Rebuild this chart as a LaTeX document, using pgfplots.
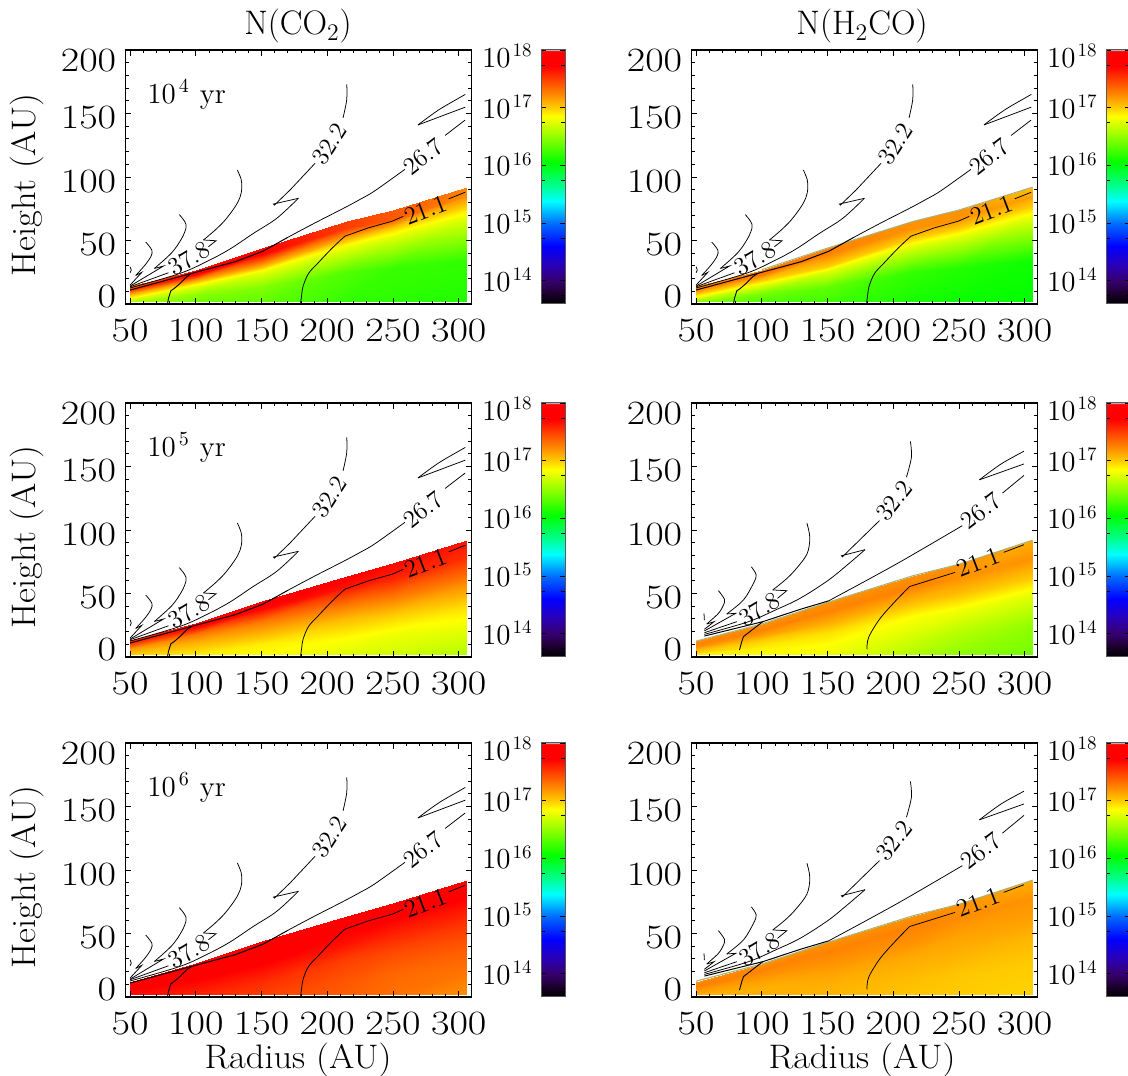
\documentclass[border=0pt]{standalone}
\usepackage{fontspec}
\usepackage{graphicx}
\usepackage{pgfplots}
\usepackage{pgfplotstable}
\pgfplotsset{compat=1.18}
\newfontfamily\tickfam[FakeStretch=1.18]{Latin Modern Roman}
\newfontfamily\labfam[FakeStretch=1.07]{Latin Modern Roman}
\newcommand\tickf{\tickfam\fontsize{17}{20}\selectfont}
\newcommand\labf{\labfam\fontsize{17}{20}\selectfont}
\newcommand\titf{\fontsize{17}{20}\selectfont}
\newcommand\barf{\fontsize{14.5}{16}\selectfont}
\newcommand\conf{\fontsize{12.5}{14}\selectfont}
\newcommand\yl[2]{\smash{\raisebox{#1}{#2}}}
\newcommand\bl[2]{\smash{\raisebox{#1}{10\hspace{1pt}\raisebox{5.4pt}{\fontsize{9.5}{10}\selectfont #2}}}}
\newcommand\agelab[1]{\barf 10\hspace{1.5pt}\raisebox{5.5pt}{\fontsize{10}{10}\selectfont #1}\hspace{5.5pt}yr}
\tikzset{clab/.style={font=\conf,inner sep=0pt,anchor=center}}
\definecolor{rimc}{RGB}{172,178,122}
\pgfplotstableread{
x y c
50 14 17.3
50 11 17.5
50 8 17.1
50 5 16.85
50 3.5 16.7
50 2 16.6
100 27 17.65
100 24 17.75
100 19 17.15
100 15 16.8
100 8 16.5
100 2 16.4
150 44 17.7
150 39 17.72
150 30 17.1
150 26 16.8
150 13 16.45
150 2 16.35
215 65 17.5
215 60 17.5
215 52 17.1
215 46 16.8
215 25 16.3
215 2 16.2
250 74 17.4
250 67 17.4
250 60 17.0
250 53 16.75
250 28 16.22
250 2 16.18
306 92 17.25
306 85 17.2
306 77 17.0
306 70 16.8
306 35 16.2
306 2 16.15
}\dataAa
\pgfplotstableread{
x y c
50 14 17.2
50 11 17.25
50 8 17.0
50 5 16.75
50 3.5 16.6
50 2 16.5
100 27 17.25
100 24 17.3
100 19 17.0
100 15 16.75
100 8 16.4
100 2 16.3
150 44 17.25
150 39 17.25
150 30 17.0
150 26 16.75
150 13 16.35
150 2 16.25
215 65 17.2
215 60 17.2
215 52 17.0
215 46 16.75
215 25 16.2
215 2 16.12
250 74 17.2
250 67 17.2
250 60 17.0
250 53 16.75
250 28 16.15
250 2 16.08
306 92 17.05
306 85 17.15
306 77 17.0
306 70 16.8
306 35 16.1
306 2 16.05
}\dataAb
\pgfplotstableread{
x y c
50 13 17.6
50 10 17.5
50 8 17.3
50 6 17.15
50 4 17.05
50 2 17.0
100 27 17.7
100 24 17.7
100 18 17.3
100 12 17.1
100 7 17.0
100 2 16.9
150 44 17.75
150 38 17.7
150 28 17.3
150 20 17.1
150 10 16.9
150 2 16.85
215 64 17.75
215 55 17.65
215 42 17.3
215 30 17.05
215 15 16.85
215 2 16.75
250 74 17.7
250 62 17.6
250 48 17.3
250 33 17.0
250 18 16.8
250 2 16.7
306 92 17.65
306 78 17.55
306 60 17.25
306 40 16.95
306 20 16.75
306 2 16.6
}\dataBa
\pgfplotstableread{
x y c
50 12.5 17.2
50 10 17.25
50 8 17.2
50 6 17.1
50 4 17.0
50 2 16.9
100 26 17.2
100 21 17.25
100 17 17.15
100 13 17.0
100 8 16.9
100 2 16.85
150 43 17.2
150 36 17.25
150 27 17.1
150 20 16.95
150 10 16.85
150 2 16.8
215 64 17.2
215 55 17.25
215 43 17.05
215 32 16.85
215 15 16.7
215 2 16.6
250 73 17.2
250 62 17.2
250 50 17.05
250 36 16.8
250 18 16.6
250 2 16.5
306 92 17.1
306 78 17.2
306 62 17.0
306 48 16.75
306 25 16.5
306 2 16.4
}\dataBb
\pgfplotstableread{
x y c
50 12 17.75
50 10 17.75
50 8 17.75
50 6 17.75
50 4 17.7
50 2 17.7
100 27 17.8
100 22 17.8
100 17 17.75
100 12 17.7
100 7 17.65
100 2 17.6
150 44 17.8
150 36 17.8
150 28 17.75
150 20 17.65
150 10 17.55
150 2 17.5
215 64 17.8
215 55 17.75
215 42 17.65
215 30 17.5
215 15 17.42
215 2 17.38
250 74 17.8
250 64 17.75
250 50 17.6
250 35 17.45
250 18 17.35
250 2 17.32
306 92 17.75
306 78 17.72
306 60 17.55
306 40 17.4
306 20 17.3
306 2 17.2
}\dataCa
\pgfplotstableread{
x y c
50 12 17.2
50 10 17.25
50 8 17.25
50 6 17.2
50 4 17.15
50 2 17.1
100 26 17.2
100 21 17.25
100 17 17.2
100 13 17.15
100 8 17.1
100 2 17.1
150 43 17.2
150 36 17.25
150 27 17.2
150 20 17.15
150 10 17.1
150 2 17.08
215 64 17.2
215 55 17.25
215 43 17.2
215 32 17.12
215 15 17.05
215 2 17.03
250 73 17.2
250 62 17.22
250 50 17.15
250 36 17.1
250 18 17.02
250 2 17.0
306 92 17.1
306 78 17.2
306 62 17.15
306 48 17.08
306 25 17.0
306 2 16.98
}\dataCb
\pgfplotstableread{
x y c
0 13.6 13.6
1 13.6 13.6
0 18 18
1 18 18
}\dataBar
\pgfplotsset{
 colormap={idl}{rgb255(0)=(0,0,0) rgb255(20)=(30,0,50) rgb255(40)=(55,0,110) rgb255(70)=(40,0,190) rgb255(100)=(0,0,255) rgb255(140)=(0,110,255) rgb255(178)=(0,255,255) rgb255(205)=(0,255,140) rgb255(245)=(0,255,0) rgb255(285)=(130,255,0) rgb255(325)=(255,255,0) rgb255(340)=(255,204,0) rgb255(366)=(255,128,0) rgb255(412)=(255,0,0) rgb255(438)=(255,0,0) rgb255(440)=(190,170,170)},
 panel/.style={scale only axis,width=173pt,height=127pt,anchor=south west,
  xmin=46.5,xmax=309.7,ymin=0,ymax=200,
  xtick={50,100,150,200,250,300},xticklabels={50,100,150,200,250,300},
  ytick={0,50,100,150,200},
  yticklabels={\yl{-1.9pt}{0},\yl{-7.7pt}{50},\yl{-7.7pt}{100},\yl{-7.7pt}{150},\yl{-10.8pt}{200}},
  minor x tick num=4,minor y tick num=4,
  tick align=inside,major tick length=2.8pt,minor tick length=1.6pt,
  tick style={black,line width=0.45pt},axis line style={line width=0.7pt},
  xticklabel style={inner sep=0pt,anchor=north,font=\tickf},xticklabel shift=7.5pt,
  yticklabel style={inner sep=0pt,anchor=east,font=\tickf},yticklabel shift=4.5pt,
  point meta min=13.6,point meta max=18,colormap name=idl,axis on top,clip=false},
 cbar/.style={scale only axis,width=12pt,height=127pt,anchor=south west,
  xmin=0,xmax=1,ymin=13.6,ymax=18,xtick=\empty,
  ytick={14,15,16,17,18},minor ytick={13.74,14.74,15.74,16.74,17.74},
  yticklabels={\bl{-5.2pt}{14},\bl{-5.2pt}{15},\bl{-5.2pt}{16},\bl{-5.2pt}{17},\bl{-8.7pt}{18}},
  tick align=inside,major tick length=2.5pt,minor tick length=2pt,
  tick style={black,line width=0.45pt},axis line style={line width=0.5pt,black!65},
  yticklabel style={inner sep=0pt,anchor=east,font=\barf},yticklabel shift=4.5pt,
  point meta min=13.6,point meta max=18,colormap name=idl,axis on top},
 cl/.style={black,line width=0.38pt,no marks,smooth,tension=0.55},
 cg/.style={black,line width=0.38pt,no marks},
 rim/.style={rimc,line width=0.55pt,no marks}
}
\newcommand\rimA{\addplot[rim] coordinates {(100,27)(150,44)(215,65)(250,74)(306,92)};}
\newcommand\rimB{\addplot[rim] coordinates {(50,12.5)(100,26)(150,43)(215,64)(250,73)(306,92)};}
\newcommand\contoursA{%
\addplot[cg,line width=0.45pt] coordinates {(78.4,0)(79.2,4.4)(81,10.4)(83.7,12.3)(88,16.2)(93.1,21.5)(96.9,24.1)};
\addplot[cg,line width=0.5pt] coordinates {(50,11)(96.9,24.1)(129.9,33.3)(151,41.5)(170,52.5)};
\addplot[cl] coordinates {(170,52.5)(190,63.5)(213,75.7)(225,82.4)(236,89)(259,106)};
\addplot[cl] coordinates {(289.6,132.7)(304.8,144.8)};
\addplot[cl] coordinates {(179.6,0)(180.5,7)(181.6,14)(185.7,24)(192.7,32)(203.7,44)(213.4,53.4)};
\addplot[cg] coordinates {(213.4,53.4)(231.4,60)(249.4,65.2)(257.8,69)};
\addplot[cg] coordinates {(292.4,82.8)(304.9,88)};
\addplot[cl] coordinates {(50,12.6)(88,24.1)(109.6,34.1)(126,43.3)(143.8,55.6)(161.6,67.5)(178,83.2)};
\addplot[cg] coordinates {(178,83.2)(159,78.7)(159.8,77.9)(171.9,90)(190.7,110.8)};
\addplot[cl] coordinates {(212,146.6)(214.8,161)(214.8,173)};
\addplot[cg] coordinates {(50,13.6)(79.2,24.6)};
\addplot[cg] coordinates {(109.6,45.1)(115.4,49.8)(105.8,50.4)};
\addplot[cl] coordinates {(105.8,50.4)(114.7,58.2)(122.3,66.1)(129.9,76.6)(133.6,84)(135,91)(134.5,98)(131.6,105.5)};
\addplot[cg] coordinates {(50,14.1)(75.4,29.9)(68.5,28)};
\addplot[cl] coordinates {(68.5,28)(81.7,40.4)(89.3,51.7)(92.6,60.3)(91.5,65)(87.4,70.4)};
\addplot[cg] coordinates {(50,14.9)(58.9,24.9)(54.3,22.5)};
\addplot[cl] coordinates {(54.3,22.5)(61.4,30.7)(66,37.8)(66.5,42.5)(61.9,48.8)};
\addplot[cg] coordinates {(50,29.3)(50.9,26.7)(50,24.6)};
\addplot[cl] coordinates {(305,165)(285,153)(269,141)};
\addplot[cg] coordinates {(269,141)(305,155)};
\node[clab,rotate=31] at (axis cs:94.9,35.9) {37.8};
\node[clab,rotate=57] at (axis cs:201.8,126) {32.2};
\node[clab,rotate=38] at (axis cs:273,116) {26.7};
\node[clab,rotate=21] at (axis cs:275,74) {21.1};
}
\newcommand\contoursB{%
\addplot[cg,line width=0.45pt] coordinates {(83,5.5)(84.7,12)(86,16)(89.8,19.1)(100.7,27.8)};
\addplot[cg,line width=0.5pt] coordinates {(56.3,16.5)(100.7,27.8)(129.1,37.5)(150.8,44.2)};
\addplot[cl] coordinates {(150.8,44.2)(180,60.5)(208.8,77)(252.5,103.4)};
\addplot[cl] coordinates {(283,129)(299.4,143)};
\addplot[cl] coordinates {(180,6)(181.2,15.3)(189.5,29.7)(200.6,42.9)(212.4,55.5)};
\addplot[cg] coordinates {(212.4,55.5)(247,66.6)};
\addplot[cg] coordinates {(284,82.4)(299.4,88.4)};
\addplot[cl] coordinates {(56.3,17.8)(89.8,27.8)(111.4,37.5)(129.1,46.2)(150,60)(165,72.5)(178.5,84.5)};
\addplot[cg] coordinates {(178.5,84.5)(160.5,79.7)(161.3,78.9)(189.5,107.4)};
\addplot[cl] coordinates {(210,141.6)(213.8,157.4)(213,169.7)};
\addplot[cg] coordinates {(56.3,19.1)(80.9,27.8)};
\addplot[cg] coordinates {(111.9,46.2)(119,52.2)(108.3,52.8)};
\addplot[cl] coordinates {(108.3,52.8)(117.7,60.6)(125.3,68.5)(134.3,81)(136.5,94)(134.3,105.3)};
\addplot[cg] coordinates {(56.3,20.5)(80.2,34.4)(73.3,33.9)};
\addplot[cl] coordinates {(73.3,33.9)(86,44.9)(93.6,58)(95.7,64.6)(92,71)};
\addplot[cg] coordinates {(56.3,21.8)(63.7,27.8)(58.1,26)};
\addplot[cl] coordinates {(58.1,26)(67,34.4)(70.8,40.9)(71.6,45.4)(67,52.2)};
\addplot[cg] coordinates {(56,34.4)(56.3,29.1)};
\addplot[cl] coordinates {(299.4,162)(282,152)(265.5,139.5)};
\addplot[cg] coordinates {(265.5,139.5)(299.4,152)};
\node[clab,rotate=31] at (axis cs:98.3,37.6) {37.8};
\node[clab,rotate=52] at (axis cs:200.6,123) {32.2};
\node[clab,rotate=38] at (axis cs:266.8,115) {26.7};
\node[clab,rotate=21] at (axis cs:264.6,74.5) {21.1};
}
\newcommand\panel[5]{%
 \begin{axis}[panel,at={(#1pt,#2pt)}]
 \addplot[surf,shader=interp,mesh/ordering=y varies,mesh/rows=6,mesh/cols=6,point meta=explicit] table[x=x,y=y,meta=c] {#3};
 #4
 \end{axis}
 \begin{axis}[cbar,at={(#5pt,#2pt)}]
 \addplot[surf,shader=interp,mesh/rows=2,mesh/cols=2,point meta=explicit] table[x=x,y=y,meta=c] {\dataBar};
 \end{axis}
}
\begin{document}
\begin{tikzpicture}[x=1pt,y=1pt]
\useasboundingbox (0,0) rectangle (564,537.5);
\panel{62.75}{385.5}{\dataAa}{\contoursA}{270.5}
\panel{345.75}{385.5}{\dataAb}{\rimA\contoursA}{553}
\panel{62.75}{209}{\dataBa}{\contoursA}{270.5}
\panel{345.75}{209}{\dataBb}{\rimB\contoursB}{553}
\panel{62.75}{39}{\dataCa}{\contoursA}{270.5}
\panel{345.75}{39}{\dataCb}{\rimB\contoursB}{553}
\node[anchor=base,inner sep=0pt,font=\titf] at (149,520) {N(CO\textsubscript{2})};
\node[anchor=base,inner sep=0pt,font=\titf] at (431,520) {N(H\textsubscript{2}CO)};
\node[anchor=base,inner sep=0pt,font=\labf] at (149,3.5) {Radius (AU)};
\node[anchor=base,inner sep=0pt,font=\labf] at (431,3.5) {Radius (AU)};
\node[rotate=90,anchor=base,inner sep=0pt,font=\labf] at (17.5,445) {Height (AU)};
\node[rotate=90,anchor=base,inner sep=0pt,font=\labf] at (17.5,269) {Height (AU)};
\node[rotate=90,anchor=base,inner sep=0pt,font=\labf] at (17.5,99) {Height (AU)};
\node[anchor=base west,inner sep=0pt] at (73.5,485.5) {\agelab{4}};
\node[anchor=base west,inner sep=0pt] at (73.5,309) {\agelab{5}};
\node[anchor=base west,inner sep=0pt] at (73.5,139) {\agelab{6}};
\end{tikzpicture}
\end{document}
